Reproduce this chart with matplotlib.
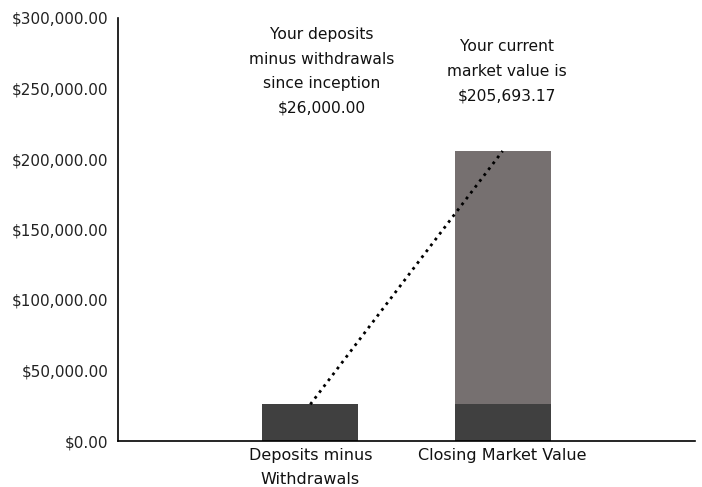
import matplotlib.pyplot as plt
from matplotlib.ticker import FuncFormatter

categories = ["Deposits minus\nWithdrawals", "Closing Market Value"]
deposits = [26000.00, 26000.00]
growth = [0, 205693.17 - 26000.00]
closing = 205693.17
notes = ["Your deposits\nminus withdrawals\nsince inception\n$26,000.00",
         "Your current\nmarket value is\n$205,693.17"]

plt.rcParams['font.family'] = ['DejaVu Sans']

fig = plt.figure(figsize=(7.02, 4.87), dpi=100)
ax = fig.add_axes([118 / 702, 1 - 441 / 487, 577 / 702, 423 / 487])

xs = [1, 2]
ax.bar(xs, deposits, width=0.5, color="#404040")
ax.bar(xs[1], growth[1], bottom=deposits[1], width=0.5, color="#767070")
ax.plot(xs, [deposits[0], closing], color="black", linestyle=":", linewidth=2)

ax.text(1.06, 262000, notes[0], ha="center", va="center", fontsize=11.2, color="#111111", linespacing=1.8)
ax.text(2.02, 262000, notes[1], ha="center", va="center", fontsize=11.2, color="#111111", linespacing=1.8)

ax.set_xlim(0, 3)
ax.set_ylim(0, 300000)
ax.set_yticks(range(0, 300001, 50000))
ax.yaxis.set_major_formatter(FuncFormatter(lambda v, p: "${:,.2f}".format(v)))
ax.set_xticks(xs)
ax.set_xticklabels(categories, fontsize=11.5, color="#111111", linespacing=1.75)
ax.tick_params(axis="y", length=0, labelsize=11, labelcolor="#222222", pad=7)
ax.tick_params(axis="x", length=0, pad=5)
for s in ["top", "right"]:
    ax.spines[s].set_visible(False)
ax.spines["left"].set_linewidth(1.2)
ax.spines["bottom"].set_linewidth(1.2)

plt.savefig("out.png", dpi=100)
